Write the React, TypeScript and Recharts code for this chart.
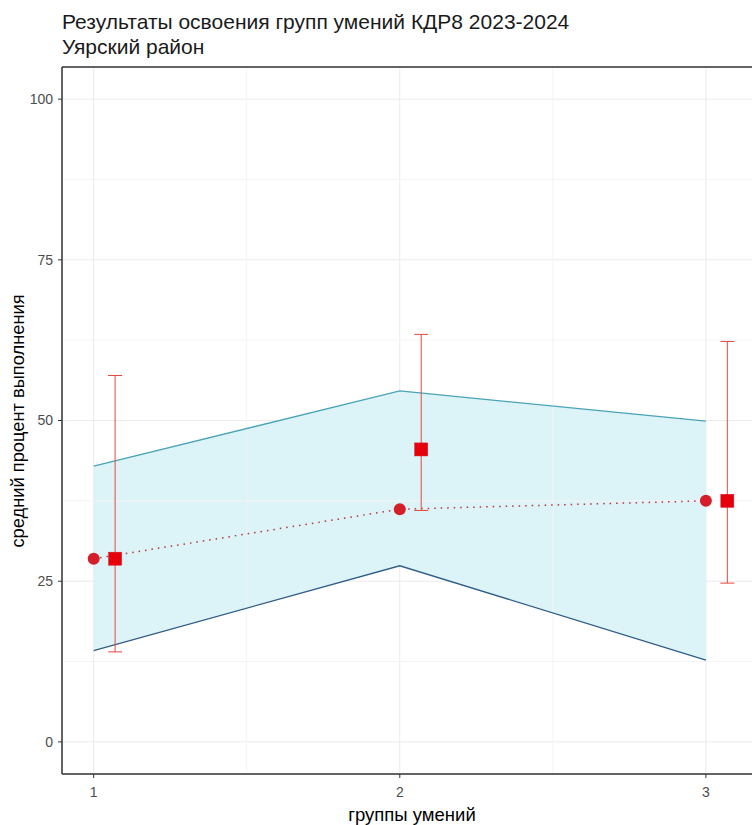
import React from "react";
import {
  ComposedChart,
  Area,
  Line,
  Scatter,
  ErrorBar,
  XAxis,
  YAxis,
  CartesianGrid,
  ReferenceLine,
} from "recharts";

// группы умений
const groups = [1, 2, 3];
// границы диапазона (заливка)
const bandLow = [14.2, 27.4, 12.7];
const bandHigh = [42.9, 54.6, 49.9];
// средние по району (круги, пунктир)
const districtMean = [28.5, 36.2, 37.5];
// средние по школе (квадраты) и интервал
const schoolMean = [28.5, 45.5, 37.5];
const schoolLow = [14.0, 36.0, 24.7];
const schoolHigh = [57.0, 63.4, 62.3];

const yTicks = [0, 25, 50, 75, 100];
const xTicks = [1, 2, 3];
const yMinor = [12.5, 37.5, 62.5, 87.5];
const xMinor = [1.5, 2.5];

const DODGE = 0.07;
const W = 770;
const H = 825;
const AXIS_TEXT = "#4d4d4d";
const FONT = "'Liberation Sans', Arial, sans-serif";

const mainData = groups.map((g, i) => ({
  x: g,
  band: [bandLow[i], bandHigh[i]],
  low: bandLow[i],
  high: bandHigh[i],
  mean: districtMean[i],
}));

const squareData = groups.map((g, i) => ({
  x: g + DODGE,
  sq: schoolMean[i],
  err: [schoolMean[i] - schoolLow[i], schoolHigh[i] - schoolMean[i]],
}));

const SquareShape = (props: any) => {
  const { cx, cy } = props;
  if (cx == null || cy == null) return null;
  return <rect x={cx - 6.5} y={cy - 6.5} width={13} height={13} fill="#e6000b" stroke="#d0101a" strokeWidth={0.5} />;
};

export default function App() {
  return (
    <div style={{ position: "absolute", left: 0, top: 0, width: 752, height: H, overflow: "hidden", fontFamily: FONT, background: "#fff" }}>
      <div style={{ position: "absolute", left: 62, top: 9, fontSize: 21, lineHeight: "25px", color: "#1a1a1a", whiteSpace: "nowrap" }}>
        Результаты освоения групп умений КДР8 2023-2024
        <br />
        Уярский район
      </div>
      <div
        style={{
          position: "absolute",
          left: 18,
          top: 421,
          transform: "translate(-50%, -50%) rotate(-90deg)",
          fontSize: 18.3,
          color: "#000",
          whiteSpace: "nowrap",
        }}
      >
        средний процент выполнения
      </div>
      <div
        style={{
          position: "absolute",
          left: 412,
          top: 815,
          transform: "translate(-50%, -50%)",
          fontSize: 18.5,
          color: "#000",
          whiteSpace: "nowrap",
        }}
      >
        группы умений
      </div>
      <div style={{ position: "absolute", left: 0, top: 0 }}>
        <ComposedChart width={W} height={H} data={mainData} margin={{ top: 67, right: 11, bottom: 0, left: 0 }}>
          <CartesianGrid stroke="#ebebeb" strokeWidth={1} />
          {yMinor.map((v) => (
            <ReferenceLine key={`ym-${v}`} y={v} stroke="#f4f4f4" strokeWidth={1} />
          ))}
          {xMinor.map((v) => (
            <ReferenceLine key={`xm-${v}`} x={v} stroke="#f4f4f4" strokeWidth={1} />
          ))}
          <XAxis
            dataKey="x"
            type="number"
            domain={[1 - 0.1035, 3 + DODGE + 0.1035]}
            allowDataOverflow
            ticks={xTicks}
            height={51}
            tickSize={4}
            tickMargin={9}
            tick={{ fill: AXIS_TEXT, stroke: "none", fontSize: 14, fontFamily: FONT }}
            tickLine={{ stroke: "#333" }}
            axisLine={{ stroke: "#333", strokeWidth: 1.5 }}
          />
          <YAxis
            type="number"
            domain={[-5, 105]}
            allowDataOverflow
            ticks={yTicks}
            width={62}
            tickSize={4}
            tickMargin={5}
            tick={{ fill: AXIS_TEXT, stroke: "none", fontSize: 14, fontFamily: FONT }}
            tickLine={{ stroke: "#333" }}
            axisLine={{ stroke: "#333", strokeWidth: 1.5 }}
          />
          <ReferenceLine y={105} stroke="#333" strokeWidth={1.5} />
          <Area dataKey="band" type="linear" fill="#dcf3f8" fillOpacity={1} stroke="none" isAnimationActive={false} />
          <Line dataKey="high" type="linear" stroke="#4aa3b8" strokeWidth={1.3} dot={false} isAnimationActive={false} />
          <Line dataKey="low" type="linear" stroke="#305c86" strokeWidth={1.3} dot={false} isAnimationActive={false} />
          <Line
            dataKey="mean"
            type="linear"
            stroke="#b8353a"
            strokeWidth={1.5}
            strokeDasharray="1.5 5"
            dot={{ r: 6, fill: "#d41f2a", stroke: "#d41f2a", strokeWidth: 0 }}
            isAnimationActive={false}
          />
          <Scatter data={squareData} dataKey="sq" shape={SquareShape} isAnimationActive={false}>
            <ErrorBar dataKey="err" direction="y" width={7} stroke="#e8473f" strokeWidth={1} />
          </Scatter>
        </ComposedChart>
      </div>
    </div>
  );
}
